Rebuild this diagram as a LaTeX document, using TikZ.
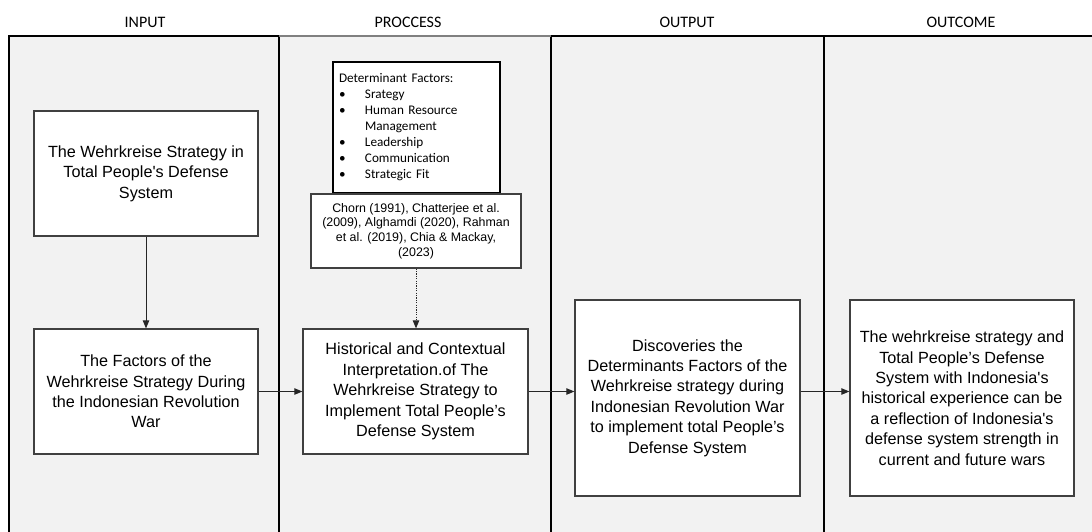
\documentclass[tikz,border=0pt]{standalone}
\usepackage{fontspec}
\setmainfont{Liberation Sans}
\newfontfamily\calfont{Carlito}
\usetikzlibrary{arrows.meta}
\definecolor{lanebg}{HTML}{F2F2F2}
\definecolor{boxline}{HTML}{404040}
\begin{document}
\begin{tikzpicture}[x=0.5pt,y=-0.5pt,
  lane/.style={draw=black,line width=0.6pt,fill=lanebg},
  hdr/.style={font=\calfont\fontsize{8}{9.6}\selectfont,inner sep=0pt},
  mbox/.style={draw=boxline,line width=0.6pt,fill=white,align=center,inner sep=0pt,
    font=\fontsize{8.1}{10.2}\selectfont},
  refbox/.style={draw=boxline,line width=0.6pt,fill=white,align=center,inner sep=0pt,
    font=\fontsize{6.2}{7.4}\selectfont},
  detbox/.style={draw=black,line width=0.6pt,fill=white,align=left,inner xsep=3pt,inner ysep=0pt,
    font=\calfont\fontsize{6.6}{8}\selectfont},
  arr/.style={draw=black!85,line width=0.5pt,-{Triangle[length=4pt,width=3.2pt]}},
  darr/.style={draw=black!85,line width=0.5pt,dash pattern=on 0.6pt off 0.6pt,-{Triangle[length=4pt,width=3.2pt]}}]
\useasboundingbox (0,0) rectangle (1092,531);
\clip (0,0) rectangle (1092,531);
\fill[white] (0,0) rectangle (1092,531);
% lanes
\draw[lane] (9,36) rectangle (279,545);
\draw[lane] (279,36) rectangle (551,545);
\draw[lane] (551,36) rectangle (824,545);
\draw[lane] (824,36) rectangle (1110,545);
\draw[gray,line width=0.8pt] (279,36) -- (551,36);
% headers
\node[hdr] (hin) at (145,22) {INPUT};
\node[hdr] (hpr) at (408,22) {PROCCESS};
\node[hdr] (hout) at (687,22) {OUTPUT};
\node[hdr] (houtc) at (961,22) {OUTCOME};
% boxes
\node[mbox,minimum width=112pt,minimum height=62.5pt] (A) at (146,173.5)
  {The Wehrkreise Strategy in\\Total People\textquotesingle s Defense\\System};
\node[mbox,minimum width=112pt,minimum height=62.5pt] (B) at (146,391.5)
  {The Factors of the\\Wehrkreise Strategy During\\the Indonesian Revolution\\War};
\node[mbox,minimum width=112.5pt,minimum height=62.5pt] (C) at (415.5,391.5)
  {Historical and Contextual\\Interpretation.of The\\Wehrkreise Strategy to\\Implement Total People’s\\Defense System};
\node[mbox,minimum width=112.5pt,minimum height=98pt] (D) at (687.5,398)
  {Discoveries the\\Determinants Factors of the\\Wehrkreise strategy during\\Indonesian Revolution War\\to implement total People’s\\Defense System};
\node[mbox,minimum width=112pt,minimum height=98pt] (E) at (962,398)
  {The wehrkreise strategy and\\Total People’s Defense\\System with Indonesia\textquotesingle s\\historical experience can be\\a reflection of Indonesia\textquotesingle s\\defense system strength in\\current and future wars};
\node[detbox,text width=77.5pt,minimum height=65.5pt] (det) at (416.5,127.5)
  {Determinant Factors:\\
   \makebox[13pt][l]{\textbullet}Srategy\\
   \makebox[13pt][l]{\textbullet}Human Resource\\
   \hspace*{13pt}Management\\
   \makebox[13pt][l]{\textbullet}Leadership\\
   \makebox[13pt][l]{\textbullet}Communication\\
   \makebox[13pt][l]{\textbullet}Strategic Fit};
\node[refbox,minimum width=105pt,minimum height=37pt] (ref) at (416,231)
  {Chorn (1991), Chatterjee et al.\\(2009), Alghamdi (2020), Rahman\\et al. (2019), Chia \& Mackay,\\(2023)};
% connectors
\draw[arr] (A.south) -- (B.north);
\draw[arr] (B.east) -- (C.west);
\draw[arr] (C.east) -- (C.east -| D.west);
\draw[arr] (D.east |- C.east) -- (E.west |- C.east);
\draw[darr] (ref.south) -- (ref.south |- C.north);
\end{tikzpicture}
\end{document}
